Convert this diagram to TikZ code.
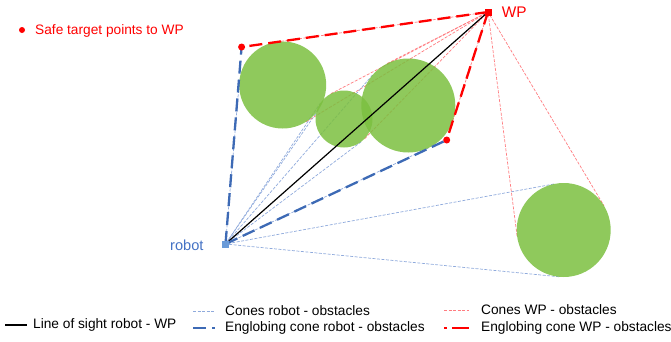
\documentclass[tikz,border=0pt]{standalone}
\usepackage{fontspec}
\setmainfont{Liberation Sans}
\usetikzlibrary{calc}
\definecolor{obst}{HTML}{7BBF3F}
\definecolor{rblue}{HTML}{4472C4}
\definecolor{envblue}{HTML}{3D6AB5}
\definecolor{rsq}{HTML}{6A9BD8}
\definecolor{lblue}{HTML}{8FAADC}
\definecolor{wpred}{HTML}{FF0000}
\definecolor{lred}{HTML}{FF7C80}
\tikzset{
  obstacle/.style={circle, fill=obst, fill opacity=0.85, inner sep=0pt, outer sep=0pt, draw=none},
  robotcone/.style={draw=lblue, line width=0.7pt, dash pattern=on 3pt off 1.5pt},
  wpcone/.style={draw=lred, line width=0.7pt, dash pattern=on 3pt off 1.5pt},
  robotenv/.style={draw=envblue, line width=2.3pt, dash pattern=on 13pt off 6pt},
  wpenv/.style={draw=wpred, line width=2.3pt, dash pattern=on 13pt off 6pt},
  sight/.style={draw=black, line width=1.2pt},
  safept/.style={circle, fill=wpred, inner sep=0pt, minimum size=7pt},
  marksq/.style={rectangle, inner sep=0pt, minimum size=7pt},
  lbl/.style={font=\fontsize{13.7}{16}\selectfont, inner sep=0pt, anchor=west},
}
\begin{document}
\begin{tikzpicture}[x=1pt,y=-1pt]
\useasboundingbox (0,0) rectangle (671,341);

% robot and waypoint
\node[marksq, fill=rsq] (robot) at (225.5,244) {};
\node[marksq, fill=wpred] (wp) at (488,12) {};
\node[lbl, text=rblue, font=\fontsize{14.6}{17}\selectfont] (robotlbl) at (170,245.5) {robot};
\node[lbl, text=wpred, font=\fontsize{15.4}{18}\selectfont] (wplbl) at (501.7,12.5) {WP};

% obstacle outlines (placeholders for tangent computation)
\path (282.7,85) node[circle, inner sep=0pt, outer sep=0pt, minimum size=87pt] (c1) {};
\path (344,119) node[circle, inner sep=0pt, outer sep=0pt, minimum size=57pt] (c2) {};
\path (408.3,105.5) node[circle, inner sep=0pt, outer sep=0pt, minimum size=94pt] (c3) {};
\path (563.7,230) node[circle, inner sep=0pt, outer sep=0pt, minimum size=94pt] (c4) {};

% tangent cones from robot and from WP to every obstacle
\foreach \c in {c1,c2,c3,c4} {
  \draw[robotcone] (tangent cs:node=\c,point={(robot.center)},solution=1)
     -- (robot.center) -- (tangent cs:node=\c,point={(robot.center)},solution=2);
  \draw[wpcone] (tangent cs:node=\c,point={(wp.center)},solution=1)
     -- (wp.center) -- (tangent cs:node=\c,point={(wp.center)},solution=2);
}

% translucent obstacles over the cones
\node[obstacle, minimum size=87pt] (o1) at (c1) {};
\node[obstacle, minimum size=57pt] (o2) at (c2) {};
\node[obstacle, minimum size=94pt] (o3) at (c3) {};
\node[obstacle, minimum size=94pt] (o4) at (c4) {};

% safe target points
\coordinate (A) at (241.6,47);
\coordinate (B) at (446.7,140);

% line of sight
\draw[sight] (robot.center) -- (wp.center);

% englobing cones
\draw[robotenv] (robot.center) -- (A);
\draw[robotenv] (robot.center) -- (B);
\draw[wpenv] (wp.center) -- (A);
\draw[wpenv] (wp.center) -- (B);

\node[safept] (sa) at (A) {};
\node[safept] (sb) at (B) {};
\node[marksq, fill=rsq] at (robot) {};
\node[marksq, fill=wpred] at (wp) {};

% legend
\node[safept, minimum size=6pt] (lgdot) at (22,30) {};
\node[lbl, text=wpred] (lgdottxt) at (35,31) {Safe target points to WP};

\coordinate (ls1) at (5,325);   \coordinate (ls2) at (27,325);
\draw[sight] (ls1) -- (ls2);
\node[lbl] (lstxt) at (33,325) {Line of sight robot - WP};

\coordinate (lc1) at (193,311); \coordinate (lc2) at (215,311);
\draw[robotcone] (lc1) -- (lc2);
\node[lbl] (lctxt) at (225,311) {Cones robot - obstacles};

\coordinate (le1) at (193,328); \coordinate (le2) at (215,328);
\draw[robotenv] (le1) -- (le2);
\node[lbl] (letxt) at (225,328) {Englobing cone robot - obstacles};

\coordinate (wc1) at (444,310); \coordinate (wc2) at (469,310);
\draw[wpcone] (wc1) -- (wc2);
\node[lbl] (wctxt) at (481,310) {Cones WP - obstacles};

\coordinate (we1) at (444,328); \coordinate (we2) at (469,328);
\draw[wpenv, dash pattern=on 3pt off 5pt on 17pt off 6pt] (we1) -- (we2);
\node[lbl] (wetxt) at (481,328) {Englobing cone WP - obstacles};
\end{tikzpicture}
\end{document}
